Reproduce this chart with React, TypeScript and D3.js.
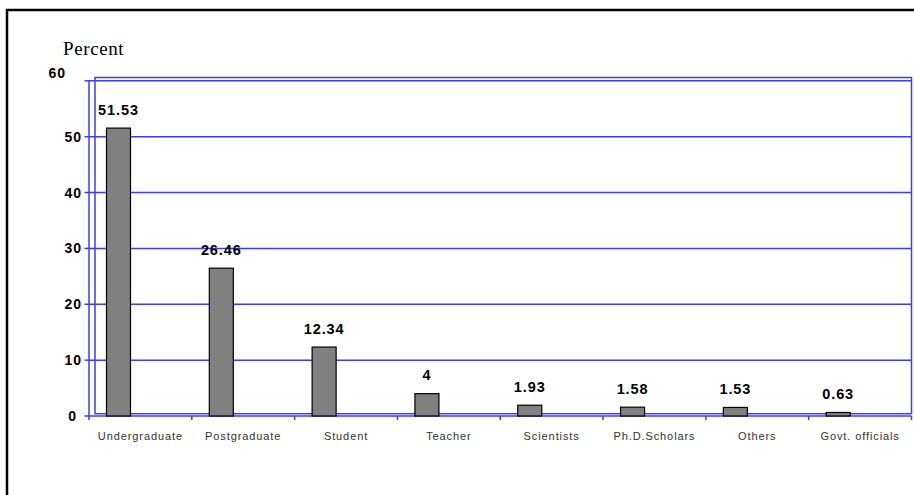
import React from "react";
import * as d3 from "d3";

const categories = ["Undergraduate", "Postgraduate", "Student", "Teacher", "Scientists", "Ph.D.Scholars", "Others", "Govt. officials"];
const values = [51.53, 26.46, 12.34, 4, 1.93, 1.58, 1.53, 0.63];
const yTicks = [0, 10, 20, 30, 40, 50, 60];

const W = 914;
const H = 495;
const BLUE = "#3b3bff";

export default function App() {
  const x = d3.scaleBand<string>().domain(categories).range([89, 911.5]).padding(0);
  const y = d3.scaleLinear().domain([0, 60]).range([416, 80.8]);
  const bw = x.bandwidth();
  const barW = 24;
  const barOff = 17.5;

  return (
    <svg width={W} height={H} style={{ position: "absolute", left: 0, top: 0, background: "#fff" }}>
      {/* outer border */}
      <path d={`M7,${H + 5} V10 H${W + 5}`} fill="none" stroke="#000" strokeWidth={2.5} />
      <text x={63} y={55} fontFamily="'Liberation Serif', 'Times New Roman', serif" fontSize={19} letterSpacing={0.6} fill="#000">Percent</text>

      {/* plot frame */}
      <rect x={95} y={77.5} width={816.5} height={336.2} fill="none" stroke={BLUE} strokeWidth={1.5} />
      {/* gridlines */}
      {yTicks.filter((t) => t > 0).map((t) => (
        <line key={t} x1={89} x2={911.5} y1={y(t)} y2={y(t)} stroke={BLUE} strokeWidth={1.5} />
      ))}
      {/* y axis */}
      <line x1={89} x2={89} y1={y(60)} y2={y(0)} stroke={BLUE} strokeWidth={1.5} />
      {yTicks.map((t) => (
        <g key={t}>
          <line x1={84.5} x2={89} y1={y(t)} y2={y(t)} stroke={BLUE} strokeWidth={1.5} />
        </g>
      ))}
      {yTicks.map((t) => (
        <text key={"l" + t} x={t === 60 ? 66 : t === 0 ? 77 : 82} y={y(t) + (t === 60 ? -3 : 5)} textAnchor="end"
          fontFamily="Arial, 'Liberation Sans', sans-serif" fontWeight="bold" fontSize={14} letterSpacing={1} fill="#000">{t}</text>
      ))}
      {/* x axis */}
      <line x1={89} x2={911.5} y1={y(0)} y2={y(0)} stroke={BLUE} strokeWidth={1.5} />
      {categories.map((c) => (
        <line key={c} x1={(x(c) as number)} x2={(x(c) as number)} y1={y(0)} y2={y(0) + 4} stroke={BLUE} strokeWidth={1.5} />
      ))}
      <line x1={911.5} x2={911.5} y1={y(0)} y2={y(0) + 4} stroke={BLUE} strokeWidth={1.5} />

      {/* bars */}
      {categories.map((c, i) => (
        <rect key={c} x={(x(c) as number) + barOff} y={y(values[i])} width={barW} height={y(0) - y(values[i])}
          fill="#808080" stroke="#000" strokeWidth={1.2} />
      ))}
      {categories.map((c, i) => (
        <text key={"v" + c} x={(x(c) as number) + barOff + barW / 2} y={y(values[i]) - 13.5} textAnchor="middle"
          fontFamily="Arial, 'Liberation Sans', sans-serif" fontWeight="bold" fontSize={14.5} letterSpacing={0.9} fill="#000">{values[i]}</text>
      ))}
      {categories.map((c) => (
        <text key={"c" + c} x={(x(c) as number) + bw / 2} y={440} textAnchor="middle"
          fontFamily="Arial, 'Liberation Sans', sans-serif" fontSize={11} letterSpacing={0.9} fill="#333">{c}</text>
      ))}
    </svg>
  );
}
